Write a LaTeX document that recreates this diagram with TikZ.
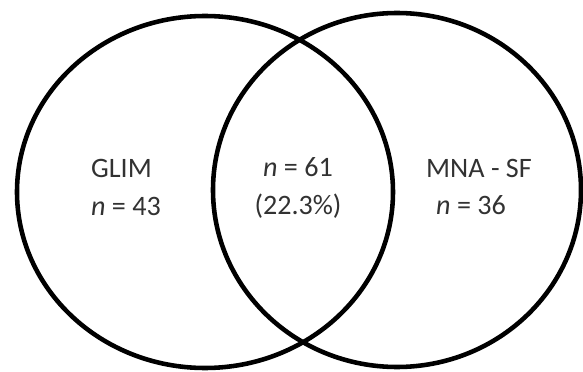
\documentclass[tikz,border=0pt]{standalone}
\usepackage{fontspec}
\setmainfont{Carlito}
\usepackage{xcolor}
\definecolor{vnink}{RGB}{0,0,0}
\definecolor{vntext}{RGB}{50,50,50}
\usetikzlibrary{positioning}
\tikzset{
  setring/.style={draw=vnink, line width=2.6pt},
  setlabel/.style={text=vntext, inner sep=0pt,
                   font=\fontsize{16}{21.6}\selectfont}
}

\begin{document}
\begin{tikzpicture}[x=0.02cm, y=-0.02cm]
      \useasboundingbox (0,0) rectangle (583,372);
      % the two sets
      \draw[setring] (205,192) ellipse [x radius=188, y radius=176];
      \draw[setring] (397,190) ellipse [x radius=184, y radius=177];
      % counts
      \node[setlabel, align=left] (glim) at (126,187)
            {GLIM\\\textit{n} = 43};
      \node[setlabel, align=center] (both) at (298,188)
            {\textit{n} = 61\\(22.3\%)};
      \node[setlabel, align=left] (mnasf) at (479,187)
            {MNA - SF\\\hspace*{0.2cm}\textit{n} = 36};
    \end{tikzpicture}
\end{document}
